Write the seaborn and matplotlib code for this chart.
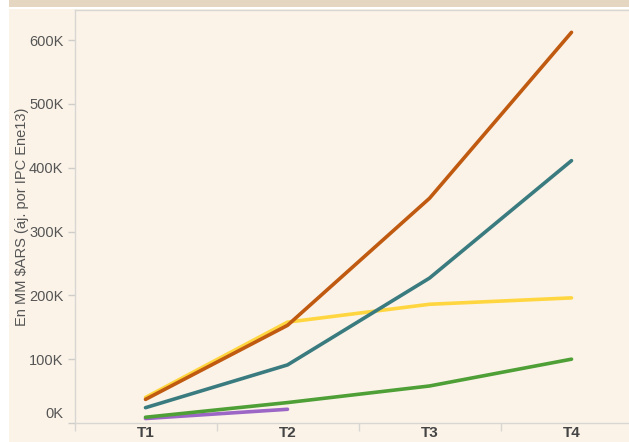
import numpy as np
import pandas as pd
import seaborn as sns
import matplotlib.pyplot as plt
from matplotlib.patches import Rectangle
from matplotlib.ticker import FuncFormatter, FixedLocator
from matplotlib.transforms import ScaledTranslation

# Quarterly series, in millions of ARS adjusted by CPI (Jan-13 base)
quarters = ["T1", "T2", "T3", "T4"]
serie_naranja = [37000, 153000, 352000, 612000]
serie_amarilla = [40000, 158000, 186000, 196000]
serie_azul = [24000, 91000, 227000, 411000]
serie_verde = [9000, 32000, 58000, 100000]
serie_violeta = [7000, 21500, np.nan, np.nan]

series_names = ["violeta", "amarilla", "azul", "verde", "naranja"]
series_values = [serie_violeta, serie_amarilla, serie_azul, serie_verde, serie_naranja]
palette = {
    "violeta": "#9b66c6",
    "amarilla": "#ffd640",
    "azul": "#3a7b80",
    "verde": "#4f9f37",
    "naranja": "#bf5a10",
}

df = pd.DataFrame(
    [(name, q, v) for name, vals in zip(series_names, series_values)
     for q, v in zip(quarters, vals)],
    columns=["serie", "trimestre", "valor"],
).dropna()

sns.set_theme(style="white")
plt.rcParams["font.family"] = ["Liberation Sans", "DejaVu Sans"]

bg = "#fbf3e8"
fig = plt.figure(figsize=(6.29, 4.42), dpi=100, facecolor="white")

# page background and header strip
fig.patches.append(Rectangle((9 / 629, 0), 1, (442 - 9) / 442,
                             transform=fig.transFigure, facecolor=bg,
                             edgecolor="none", zorder=-10))
fig.patches.append(Rectangle((9 / 629, (442 - 7) / 442), 1, 7 / 442,
                             transform=fig.transFigure, facecolor="#e4d6c1",
                             edgecolor="none", zorder=-10))

ax = fig.add_axes([74.5 / 629, 19 / 442, 568 / 629, 413 / 442])
ax.set_facecolor(bg)

sns.lineplot(data=df, x="trimestre", y="valor", hue="serie",
             hue_order=series_names, palette=palette, estimator=None,
             sort=False, linewidth=2.6, legend=False, ax=ax,
             solid_capstyle="round")

ax.set_xlim(-0.5, 3.5)
ax.set_ylim(0, 647000)

# spines
for side in ["left", "bottom", "top"]:
    ax.spines[side].set_color("#d8d6d2")
    ax.spines[side].set_linewidth(1.0)
ax.spines["right"].set_visible(False)

# y axis
ax.yaxis.set_major_locator(FixedLocator(np.arange(0, 600001, 100000)))
ax.yaxis.set_major_formatter(FuncFormatter(lambda v, p: f"{int(round(v / 1000))}K"))
ax.tick_params(axis="y", which="major", length=5, width=1, color="#cfcdca",
               labelsize=10.5, labelcolor="#555555", pad=3, left=True)
ax.set_ylabel("En MM $ARS (aj. por IPC Ene13)", fontsize=10.5, color="#555555",
              labelpad=0)

# x axis: labels at band centres, ticks at band edges
ax.set_xticks(range(len(quarters)))
ax.set_xticklabels(quarters, fontweight="bold")
ax.xaxis.set_minor_locator(FixedLocator([-0.5, 0.5, 1.5, 2.5, 3.5]))
ax.tick_params(axis="x", which="major", length=0, labelsize=11,
               labelcolor="#444444", pad=2.5)
ax.tick_params(axis="x", which="minor", length=6, width=1, color="#d8d6d2",
               bottom=True)
ax.set_xlabel("")

# keep the lowest y label flush above the axis line
fig.canvas.draw()
first = ax.get_yticklabels()[0]
first.set_va("bottom")
first.set_transform(first.get_transform() +
                    ScaledTranslation(0, 1.5 / 72, fig.dpi_scale_trans))

fig.savefig("out.png", dpi=100, facecolor=fig.get_facecolor())
